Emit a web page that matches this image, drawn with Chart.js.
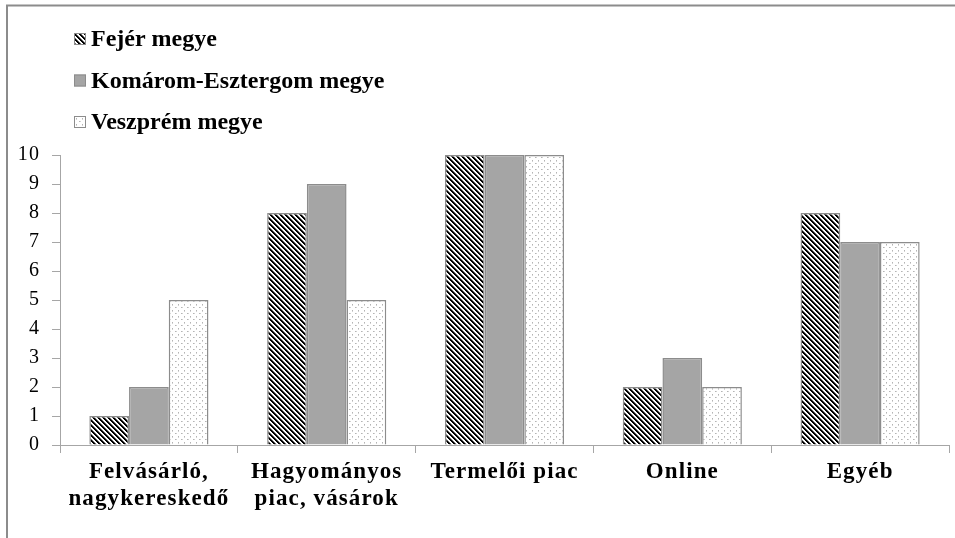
<!DOCTYPE html>
<html>
<head>
<meta charset="utf-8">
<script src="https://cdn.jsdelivr.net/npm/chart.js@4.4.1/dist/chart.umd.min.js"></script>
<style>
    html, body { margin: 0; padding: 0; background: #fff; }
    #wrap { width: 955px; height: 538px; }
</style>
</head>
<body>
<div id="wrap"><canvas id="salesChart" width="955" height="538"></canvas></div>
<script>
// Chart data
const categories = [
    ['Felvásárló,', 'nagykereskedő'],
    ['Hagyományos', 'piac, vásárok'],
    'Termelői piac',
    'Online',
    'Egyéb'
];
const seriesNames = ['Fejér megye', 'Komárom-Esztergom megye', 'Veszprém megye'];
const fejer = [1, 8, 10, 2, 8];
const komarom = [2, 9, 10, 3, 7];
const veszprem = [5, 5, 10, 2, 7];
const yTicks = [0, 1, 2, 3, 4, 5, 6, 7, 8, 9, 10];

const serif = "'Liberation Serif', 'Times New Roman', serif";
const edgeGray = '#8c8c8c';
const axisGray = '#a6a6a6';

// Fill patterns like the original (stripes, solid gray, dots)
function stripePattern() {
    const c = document.createElement('canvas');
    c.width = 5; c.height = 5;
    const g = c.getContext('2d');
    for (let y = 0; y < 5; y++) {
        for (let x = 0; x < 5; x++) {
            const m = ((x - y) % 5 + 5) % 5;
            g.fillStyle = m < 2 ? '#000' : (m === 2 ? '#6e6e6e' : '#fff');
            g.fillRect(x, y, 1, 1);
        }
    }
    return g.createPattern(c, 'repeat');
}

function dotPattern() {
    const c = document.createElement('canvas');
    c.width = 6; c.height = 6;
    const g = c.getContext('2d');
    g.fillStyle = '#fff';
    g.fillRect(0, 0, 6, 6);
    g.fillStyle = '#b4b4b4';
    g.fillRect(1, 1, 1, 1);
    g.fillRect(4, 4, 1, 1);
    g.fillStyle = '#d2d2d2';
    g.fillRect(2, 1, 1, 1);
    g.fillRect(4, 5, 1, 1);
    return g.createPattern(c, 'repeat');
}

const fills = [stripePattern(), '#a5a5a5', dotPattern()];

// Outer frame and text spacing
const framePlugin = {
    id: 'frame',
    beforeDraw(chart) {
        const ctx = chart.ctx;
        ctx.letterSpacing = '1.1px';
        ctx.save();
        ctx.strokeStyle = edgeGray;
        ctx.lineWidth = 2;
        ctx.beginPath();
        ctx.moveTo(7, 538);
        ctx.lineTo(7, 5.5);
        ctx.lineTo(955, 5.5);
        ctx.stroke();
        ctx.restore();
    }
};

// Vertical legend at the top left
const legendPlugin = {
    id: 'stackLegend',
    afterDraw(chart) {
        const ctx = chart.ctx;
        ctx.save();
        ctx.letterSpacing = '0px';
        ctx.font = 'bold 24px ' + serif;
        ctx.textBaseline = 'alphabetic';
        ctx.textAlign = 'left';
        chart.data.datasets.forEach((ds, i) => {
            const base = 46 + i * 41.5;
            ctx.fillStyle = ds.backgroundColor;
            ctx.fillRect(74, base - 13, 12, 12);
            ctx.strokeStyle = edgeGray;
            ctx.lineWidth = 1;
            ctx.strokeRect(74.5, base - 12.5, 11, 11);
            ctx.fillStyle = '#000';
            ctx.fillText(ds.label, 91, base);
        });
        ctx.restore();
    }
};

const ctx = document.getElementById('salesChart').getContext('2d');
new Chart(ctx, {
    type: 'bar',
    data: {
        labels: categories,
        datasets: [fejer, komarom, veszprem].map((values, i) => ({
            label: seriesNames[i],
            data: values,
            backgroundColor: fills[i],
            borderColor: edgeGray,
            borderWidth: 1.5,
            categoryPercentage: 0.67,
            barPercentage: 1.0
        }))
    },
    options: {
        responsive: false,
        animation: false,
        devicePixelRatio: 1,
        layout: {
            padding: { top: 155, right: 6, left: 0, bottom: 0 }
        },
        plugins: {
            legend: { display: false },
            tooltip: { enabled: false }
        },
        scales: {
            x: {
                grid: {
                    display: true,
                    drawOnChartArea: false,
                    drawTicks: true,
                    tickLength: 8,
                    color: axisGray,
                    offset: true
                },
                border: { color: axisGray, width: 1 },
                ticks: {
                    color: '#000',
                    padding: 6,
                    maxRotation: 0,
                    autoSkip: false,
                    font: { family: serif, size: 23, weight: 'bold', lineHeight: 1.17 }
                },
                afterFit(scale) { scale.height = 93; }
            },
            y: {
                min: 0,
                max: 10,
                afterBuildTicks(scale) {
                    scale.ticks = yTicks.map(v => ({ value: v }));
                },
                grid: {
                    drawOnChartArea: false,
                    drawTicks: true,
                    tickLength: 8,
                    color: axisGray
                },
                border: { color: axisGray, width: 1 },
                ticks: {
                    color: '#000',
                    padding: 12,
                    font: { family: serif, size: 20 }
                },
                afterFit(scale) { scale.width = 60; }
            }
        }
    },
    plugins: [framePlugin, legendPlugin]
});
</script>
</body>
</html>
